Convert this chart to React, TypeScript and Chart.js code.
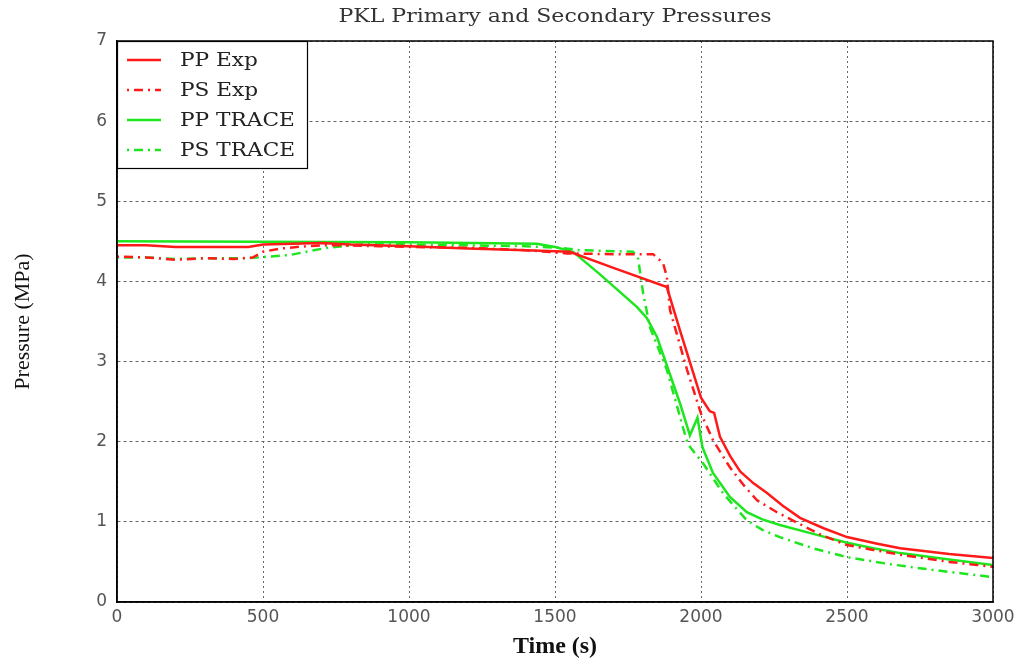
import React, { useEffect, useRef } from "react";
import { Chart, registerables } from "chart.js";

Chart.register(...registerables);

const chartTitle = "PKL Primary and Secondary Pressures";
const xLabel = "Time (s)";
const yLabel = "Pressure (MPa)";
const xTicks = [0, 500, 1000, 1500, 2000, 2500, 3000];
const yTicks = [0, 1, 2, 3, 4, 5, 6, 7];

const seriesNames = ["PP Exp", "PS Exp", "PP TRACE", "PS TRACE"];

const ppExpT = [0, 100, 200, 300, 450, 500, 600, 700, 800, 1000, 1200, 1400, 1550, 1700, 1883, 1928, 2000, 2030, 2045, 2065, 2100, 2134, 2180, 2226, 2280, 2339, 2420, 2500, 2600, 2682, 2850, 3000];
const ppExpP = [4.45, 4.45, 4.43, 4.43, 4.43, 4.46, 4.47, 4.48, 4.46, 4.44, 4.41, 4.39, 4.37, 4.17, 3.93, 3.39, 2.55, 2.38, 2.36, 2.06, 1.82, 1.63, 1.48, 1.36, 1.2, 1.05, 0.92, 0.81, 0.73, 0.67, 0.6, 0.55];

const psExpT = [0, 100, 200, 300, 400, 466, 500, 560, 616, 700, 774, 900, 1000, 1200, 1400, 1541, 1700, 1836, 1870, 1883, 1894, 1952, 2000, 2041, 2099, 2150, 2192, 2260, 2329, 2410, 2500, 2590, 2682, 2850, 3000];
const psExpP = [4.31, 4.3, 4.27, 4.29, 4.28, 4.3, 4.37, 4.41, 4.43, 4.45, 4.45, 4.44, 4.43, 4.42, 4.39, 4.35, 4.34, 4.34, 4.23, 4.06, 3.64, 2.9, 2.35, 2.02, 1.68, 1.44, 1.27, 1.12, 0.99, 0.84, 0.71, 0.65, 0.59, 0.5, 0.44];

const ppTraceT = [0, 1000, 1438, 1500, 1562, 1650, 1781, 1815, 1849, 1928, 1962, 1988, 2005, 2041, 2099, 2157, 2210, 2270, 2384, 2500, 2590, 2682, 2850, 3000];
const ppTraceP = [4.5, 4.49, 4.47, 4.43, 4.37, 4.1, 3.68, 3.54, 3.31, 2.48, 2.08, 2.3, 1.93, 1.61, 1.31, 1.12, 1.03, 0.96, 0.85, 0.74, 0.67, 0.61, 0.53, 0.46];

const psTraceT = [0, 100, 200, 300, 450, 592, 719, 890, 1000, 1200, 1400, 1517, 1585, 1767, 1784, 1802, 1825, 1883, 1938, 1955, 2007, 2075, 2120, 2157, 2210, 2270, 2384, 2500, 2650, 2795, 3000];
const psTraceP = [4.3, 4.3, 4.28, 4.29, 4.29, 4.33, 4.42, 4.48, 4.46, 4.45, 4.44, 4.42, 4.39, 4.37, 4.3, 3.85, 3.43, 2.9, 2.18, 1.97, 1.73, 1.36, 1.17, 1.02, 0.9, 0.81, 0.67, 0.56, 0.47, 0.4, 0.31];

const RED = "#ff1a1a";
const GREEN = "#1ee61e";
const DASHDOT = [2, 5, 9, 5];

const toPts = (t: number[], p: number[]) => t.map((x, i) => ({ x, y: p[i] }));

const frameAndLegend = {
  id: "frameAndLegend",
  afterDraw(chart: any) {
    const { ctx, chartArea } = chart;
    const { left, top, right, bottom } = chartArea;
    ctx.save();
    ctx.strokeStyle = "#000";
    ctx.lineWidth = 1.5;
    ctx.setLineDash([]);
    ctx.strokeRect(left, top, right - left, bottom - top);

    // title
    ctx.save();
    ctx.fillStyle = "#333";
    ctx.font = "19px 'DejaVu Serif'";
    ctx.textAlign = "center";
    ctx.textBaseline = "middle";
    ctx.translate((left + right) / 2, 17);
    ctx.scale(1.16, 1);
    ctx.fillText(chartTitle, 0, 0);
    ctx.restore();

    // legend box
    const bx = left, by = top, bw = 190, bh = 127;
    ctx.fillStyle = "#fff";
    ctx.fillRect(bx, by, bw, bh);
    ctx.lineWidth = 1.2;
    ctx.strokeRect(bx + 0.5, by + 0.5, bw, bh);
    chart.data.datasets.forEach((ds: any, i: number) => {
      const cy = by + 19 + i * 30;
      ctx.strokeStyle = ds.borderColor;
      ctx.lineWidth = 2.5;
      ctx.setLineDash(ds.borderDash || []);
      ctx.beginPath();
      ctx.moveTo(bx + 10, cy);
      ctx.lineTo(bx + 44, cy);
      ctx.stroke();
      ctx.setLineDash([]);
      ctx.save();
      ctx.fillStyle = "#222";
      ctx.font = "19px 'DejaVu Serif'";
      ctx.textBaseline = "middle";
      ctx.textAlign = "left";
      ctx.translate(bx + 63, cy + 1);
      ctx.scale(1.14, 1);
      ctx.fillText(ds.label, 0, 0);
      ctx.restore();
    });
    ctx.restore();
  },
};

export default function App() {
  const ref = useRef<HTMLCanvasElement>(null);
  useEffect(() => {
    document.body.style.margin = "0";
    const mk = (label: string, t: number[], p: number[], color: string, dash: number[] | undefined) => ({
      label,
      data: toPts(t, p),
      borderColor: color,
      backgroundColor: color,
      borderWidth: 2.5,
      borderDash: dash,
      pointRadius: 0,
      tension: 0,
      fill: false,
    });
    const chart = new Chart(ref.current as HTMLCanvasElement, {
      type: "line",
      data: {
        datasets: [
          mk(seriesNames[0], ppExpT, ppExpP, RED, undefined),
          mk(seriesNames[1], psExpT, psExpP, RED, DASHDOT),
          mk(seriesNames[2], ppTraceT, ppTraceP, GREEN, undefined),
          mk(seriesNames[3], psTraceT, psTraceP, GREEN, DASHDOT),
        ],
      },
      options: {
        animation: false,
        responsive: false,
        maintainAspectRatio: false,
        layout: { padding: { left: 0, right: 31, top: 41, bottom: 0 } },
        plugins: {
          legend: { display: false },
          tooltip: { enabled: false },
          title: { display: false },
        },
        scales: {
          x: {
            type: "linear",
            min: 0,
            max: 3000,
            afterBuildTicks: (s: any) => {
              s.ticks = xTicks.map((v) => ({ value: v }));
            },
            afterFit: (s: any) => {
              s.height = 59;
            },
            ticks: {
              color: "#555",
              font: { family: "'DejaVu Sans'", size: 17 },
              padding: 5,
              maxRotation: 0,
              callback: (v: any) => String(v),
            },
            grid: {
              color: "#666",
              lineWidth: 1,
              drawTicks: false,
            },
            border: { display: true, color: "#000", width: 1.5, dash: [2, 3] },
            title: {
              display: true,
              text: xLabel,
              color: "#111",
              font: { family: "'Liberation Serif'", size: 24, weight: "bold" },
              padding: { top: 3, bottom: 0 },
            },
          },
          y: {
            type: "linear",
            min: 0,
            max: 7,
            afterBuildTicks: (s: any) => {
              s.ticks = yTicks.map((v) => ({ value: v }));
            },
            afterFit: (s: any) => {
              s.width = 117;
            },
            ticks: {
              color: "#555",
              font: { family: "'DejaVu Sans'", size: 17 },
              padding: 10,
              callback: (v: any) => String(v),
            },
            grid: {
              color: "#666",
              lineWidth: 1,
              drawTicks: false,
            },
            border: { display: true, color: "#000", width: 1.5, dash: [3, 3] },
            title: {
              display: true,
              text: yLabel,
              color: "#111",
              font: { family: "'Liberation Serif'", size: 22, weight: "normal" },
              padding: { top: 10, bottom: 20 },
            },
          },
        },
      },
      plugins: [frameAndLegend],
    } as any);
    return () => chart.destroy();
  }, []);
  return <canvas ref={ref} width={1024} height={661} style={{ display: "block" }} />;
}
